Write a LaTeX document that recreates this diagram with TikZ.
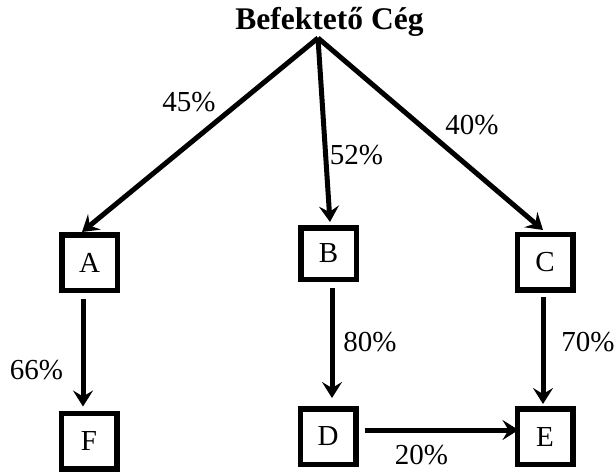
\documentclass[tikz,border=0pt]{standalone}
\usepackage{fontspec}
\setmainfont{Liberation Serif}
\usetikzlibrary{arrows.meta}
\begin{document}
\begin{tikzpicture}[x=1pt,y=-1pt,
  every node/.style={font=\fontsize{29}{32}\selectfont},
  box/.style={draw, line width=5.5pt, minimum width=55.5pt, minimum height=55.5pt, inner sep=0pt},
  lbl/.style={inner sep=0pt},
  arr/.style={line width=5pt, -{Stealth[length=16pt,width=20pt,inset=6pt]}}]
\useasboundingbox (0,0) rectangle (615,472);
\node[font=\fontsize{31.5}{34}\selectfont\bfseries, inner sep=0pt] (top) at (329.5,22) {Befektető Cég};
\coordinate (apex) at (318,38);
\node[box] (A) at (89.5,262.5) {A};
\node[box, minimum height=51.5pt] (B) at (328.5,253.5) {B};
\node[box] (C) at (545,262) {C};
\node[box] (F) at (89,441) {F};
\node[box] (D) at (328,436.5) {D};
\node[box] (E) at (545,436.5) {E};
\coordinate (tA) at (82,232);
\coordinate (tB) at (330,222);
\coordinate (tC) at (543,230);
\draw[arr] (apex) -- (tA);
\draw[arr] (apex) -- (tB);
\draw[arr] (apex) -- (tC);
\draw[arr] ([xshift=-6.5pt,yshift=-6pt]A.south) -- ([xshift=-6pt,yshift=4pt]F.north);
\draw[arr] ([xshift=3.5pt,yshift=-6pt]B.south) -- ([xshift=4pt,yshift=8pt]D.north);
\draw[arr] ([xshift=-2pt,yshift=-4pt]C.south) -- ([xshift=-2pt,yshift=2pt]E.north);
\draw[arr] ([xshift=6pt,yshift=6.5pt]D.east) -- ([xshift=4pt,yshift=6.5pt]E.west);
\node[lbl] (l45) at (189,102) {45\%};
\node[lbl] (l52) at (356.5,155) {52\%};
\node[lbl] (l40) at (472,125) {40\%};
\node[lbl] (l66) at (36.5,370) {66\%};
\node[lbl] (l80) at (370,342) {80\%};
\node[lbl] (l70) at (588,342) {70\%};
\node[lbl] (l20) at (421.5,455) {20\%};
\end{tikzpicture}
\end{document}
